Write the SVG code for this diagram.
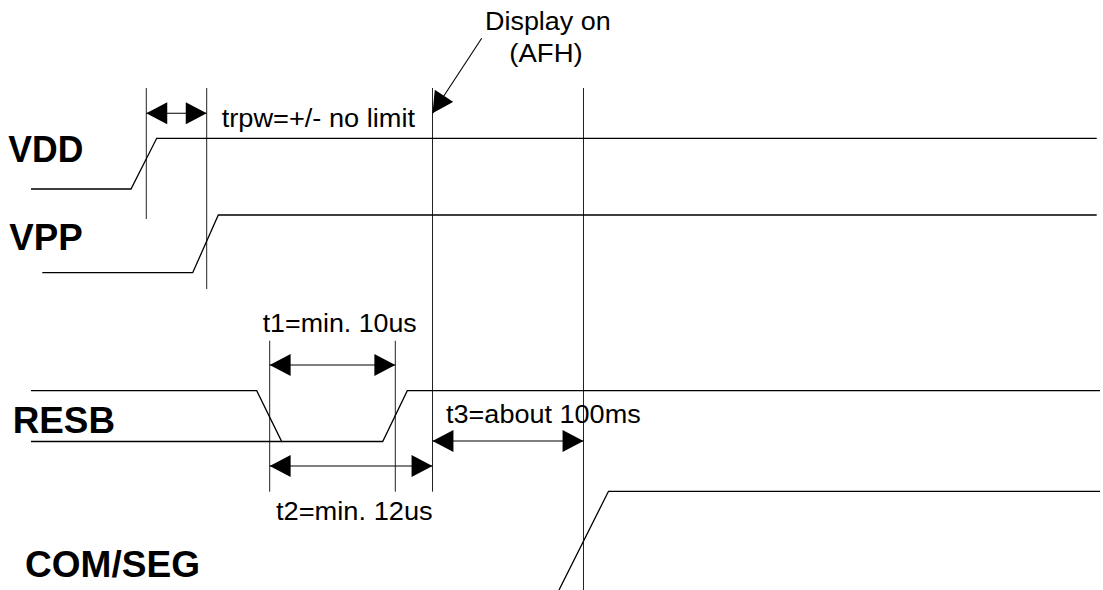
<svg xmlns="http://www.w3.org/2000/svg" width="1103" height="590" viewBox="0 0 1103 590">
<style>
.sig{fill:none;stroke:#000;stroke-width:1.3}
.guide{fill:none;stroke:#222;stroke-width:1}
.dim{fill:none;stroke:#000;stroke-width:1.1;marker-start:url(#ah);marker-end:url(#ah)}
.lbl{font-family:"Liberation Sans",Arial,sans-serif;font-size:25.5px;fill:#000}
.signame{font-family:"Liberation Sans",Arial,sans-serif;font-size:37px;font-weight:bold;fill:#000}
</style>
<defs>
<marker id="ah" markerUnits="userSpaceOnUse" markerWidth="22" markerHeight="22" viewBox="0 0 20 21" refX="20" refY="10.5" orient="auto-start-reverse">
<path d="M0,0 L20,10.5 L0,21 Z" fill="#000"/>
</marker>
</defs>
<rect width="1103" height="590" fill="#fff"/>
<g id="guides">
<line class="guide" x1="146.3" y1="88" x2="146.3" y2="219"/>
<line class="guide" x1="206.7" y1="88" x2="206.7" y2="289"/>
<line class="guide" x1="432.5" y1="88" x2="432.5" y2="491.7"/>
<line class="guide" x1="583.5" y1="88" x2="583.5" y2="590"/>
<line class="guide" x1="269.7" y1="340.7" x2="269.7" y2="491.7"/>
<line class="guide" x1="395.3" y1="340.7" x2="395.3" y2="491.7"/>
</g>
<g id="VDD">
<text class="signame" x="8.3" y="161.7" textLength="75" lengthAdjust="spacingAndGlyphs">VDD</text>
<polyline class="sig" points="31,189 131,189 156.7,138.3 1096.7,138.3"/>
</g>
<g id="VPP">
<text class="signame" x="9.3" y="250" textLength="73.5" lengthAdjust="spacingAndGlyphs">VPP</text>
<polyline class="sig" points="42.3,272.7 192.7,272.7 218.3,215 1096.7,215"/>
</g>
<g id="RESB">
<text class="signame" x="12.7" y="432.7" textLength="102.3" lengthAdjust="spacingAndGlyphs">RESB</text>
<polyline class="sig" points="31,390.7 256.7,390.7 281.7,441.5 382.7,441.5 407.3,390.7 1100,390.7"/>
<line class="sig" x1="31" y1="441.5" x2="281.7" y2="441.5"/>
</g>
<g id="COMSEG">
<text class="signame" x="25" y="576.7" textLength="175" lengthAdjust="spacingAndGlyphs">COM/SEG</text>
<polyline class="sig" points="559,590 608.5,491.3 1100,491.3"/>
</g>
<g id="connectors">
<line class="dim" x1="146.3" y1="113.3" x2="206.7" y2="113.3"/>
<line class="dim" x1="269.7" y1="365" x2="395.3" y2="365"/>
<line class="dim" x1="269.7" y1="466" x2="432.5" y2="466"/>
<line class="dim" x1="432.5" y1="441" x2="583.5" y2="441"/>
<line fill="none" stroke="#000" stroke-width="1.1" marker-end="url(#ah)" x1="481.7" y1="38.3" x2="432.5" y2="113.3"/>
</g>
<g id="labels">
<text class="lbl" x="221.7" y="126.7" textLength="193.3" lengthAdjust="spacingAndGlyphs">trpw=+/- no limit</text>
<text class="lbl" x="485" y="30" textLength="125.7" lengthAdjust="spacingAndGlyphs">Display on</text>
<text class="lbl" x="509.3" y="61.7" textLength="73.4" lengthAdjust="spacingAndGlyphs">(AFH)</text>
<text class="lbl" x="262.7" y="332.3" textLength="154" lengthAdjust="spacingAndGlyphs">t1=min. 10us</text>
<text class="lbl" x="276" y="520" textLength="156.7" lengthAdjust="spacingAndGlyphs">t2=min. 12us</text>
<text class="lbl" x="446" y="423.3" textLength="194.7" lengthAdjust="spacingAndGlyphs">t3=about 100ms</text>
</g>
</svg>
